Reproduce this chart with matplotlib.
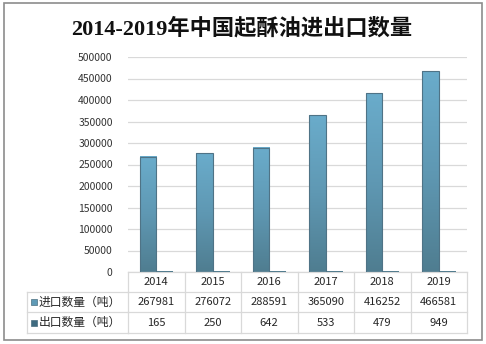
import matplotlib
matplotlib.use("Agg")
import matplotlib.pyplot as plt
import numpy as np
from matplotlib.colors import LinearSegmentedColormap
from matplotlib.patches import Rectangle
from matplotlib.transforms import blended_transform_factory

plt.rcParams['font.family'] = ['Noto Sans CJK SC', 'DejaVu Sans']

years = ["2014", "2015", "2016", "2017", "2018", "2019"]
imports = [267981, 276072, 288591, 365090, 416252, 466581]
exports = [165, 250, 642, 533, 479, 949]
series_names = ["进口数量（吨）", "出口数量（吨）"]
title = "2014-2019年中国起酥油进出口数量"
y_ticks = list(range(0, 500001, 50000))

W, H = 486, 344
fig = plt.figure(figsize=(W / 100, H / 100), dpi=100)

# outer frame
fig.patches.append(Rectangle((4 / W, 4 / H), 478 / W, 337 / H, transform=fig.transFigure,
                             fill=False, edgecolor="#8c8c8c", linewidth=1.2))

fig.text(242 / W, 1 - 29 / H, title, ha="center", va="center", fontsize=16, fontweight="bold",
         family=["Liberation Serif", "Noto Sans CJK SC"], color="#111111")

left, right, top, bottom = 128, 467, 57, 272
ax = fig.add_axes([left / W, 1 - bottom / H, (right - left) / W, (bottom - top) / H])
n = len(years)
ax.set_xlim(0, n)
ax.set_ylim(0, 500000)
ax.set_yticks(y_ticks)
ax.set_yticklabels([str(v) for v in y_ticks], fontsize=7.5, color="#333333")
ax.tick_params(axis="y", length=0, pad=11)
ax.set_xticks([])
for s in ax.spines.values():
    s.set_visible(False)
ax.grid(axis="y", color="#d9d9d9", linewidth=0.9)
ax.set_axisbelow(True)

imp_cmap = LinearSegmentedColormap.from_list("imp", ["#4f7d90", "#5f98b3", "#6aaccb"])
exp_cmap = LinearSegmentedColormap.from_list("exp", ["#3a6375", "#4a7d93"])
grad = np.linspace(0, 1, 256).reshape(-1, 1)
bw = 0.29
off = 0.21
for i in range(n):
    x0 = i + off
    h = imports[i]
    ax.imshow(grad, extent=[x0, x0 + bw, 0, h], origin="lower", aspect="auto",
              cmap=imp_cmap, zorder=2)
    ax.add_patch(Rectangle((x0, 0), bw, h, fill=False, edgecolor="#4f7386", linewidth=0.8, zorder=3))
    x1 = x0 + bw
    ax.imshow(grad, extent=[x1, x1 + bw, 0, exports[i]], origin="lower", aspect="auto",
              cmap=exp_cmap, zorder=2)
    ax.add_patch(Rectangle((x1, 0), bw, exports[i], fill=False, edgecolor="#3f6577", linewidth=0.8, zorder=3))
ax.set_xlim(0, n)
ax.set_ylim(0, 500000)

# data table under the axis
line_c = "#d9d9d9"
tf = blended_transform_factory(ax.transData, fig.transFigure)
row_y = [272, 292, 312, 333]
fy = lambda p: 1 - p / H
for p in row_y:
    ax.plot([0, n], [fy(p)] * 2, transform=tf, color=line_c, linewidth=0.9, clip_on=False)
for i in range(n + 1):
    ax.plot([i, i], [fy(272), fy(333)], transform=tf, color=line_c, linewidth=0.9, clip_on=False)
# label column
fig.add_artist(plt.Line2D([27 / W, left / W], [fy(292)] * 2, color=line_c, linewidth=0.9))
fig.add_artist(plt.Line2D([27 / W, left / W], [fy(312)] * 2, color=line_c, linewidth=0.9))
fig.add_artist(plt.Line2D([27 / W, left / W], [fy(333)] * 2, color=line_c, linewidth=0.9))
fig.add_artist(plt.Line2D([27 / W, 27 / W], [fy(292), fy(333)], color=line_c, linewidth=0.9))

txt_c = "#262626"
for i, yr in enumerate(years):
    ax.text(i + 0.5, fy(282), yr, transform=tf, ha="center", va="center", fontsize=8, color=txt_c)
    ax.text(i + 0.5, fy(302), str(imports[i]), transform=tf, ha="center", va="center", fontsize=8, color=txt_c)
    ax.text(i + 0.5, fy(322.5), str(exports[i]), transform=tf, ha="center", va="center", fontsize=8, color=txt_c)

key_colors = ["#5f9ab6", "#3f6b80"]
for k, (name, yc) in enumerate(zip(series_names, [302, 322.5])):
    fig.patches.append(Rectangle((31 / W, fy(yc + 3)), 6 / W, 6 / H, transform=fig.transFigure,
                                 facecolor=key_colors[k], edgecolor="#4a6f80", linewidth=0.5))
    fig.text(39 / W, fy(yc), name, ha="left", va="center", fontsize=8.5, color=txt_c)

fig.savefig("out.png", dpi=100)
